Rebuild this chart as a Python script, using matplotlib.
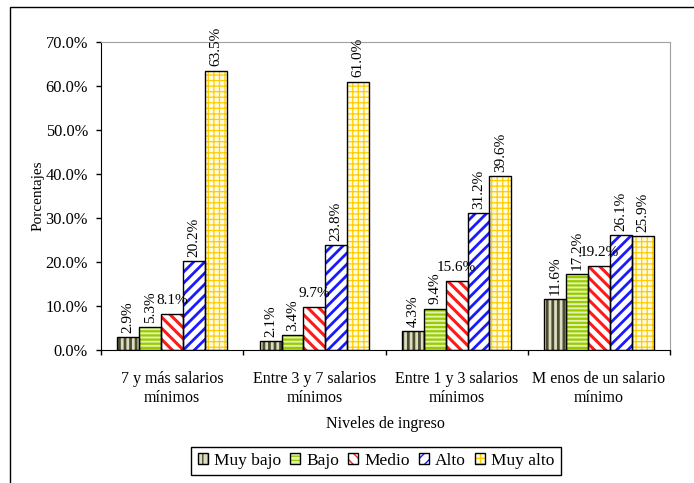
import matplotlib
matplotlib.use("Agg")
import matplotlib.pyplot as plt
import numpy as np
from matplotlib.patches import Patch, Rectangle
from matplotlib.legend_handler import HandlerTuple
from matplotlib.ticker import FuncFormatter, FixedLocator

plt.rcParams['font.family'] = ['Liberation Serif', 'DejaVu Serif']

categories = ["7 y más salarios\nmínimos", "Entre 3 y 7 salarios\nmínimos",
              "Entre 1 y 3 salarios\nmínimos", "M enos de un salario\nmínimo"]
series = ["Muy bajo", "Bajo", "Medio", "Alto", "Muy alto"]
muy_bajo = [2.9, 2.1, 4.3, 11.6]
bajo = [5.3, 3.4, 9.4, 17.2]
medio = [8.1, 9.7, 15.6, 19.2]
alto = [20.2, 23.8, 31.2, 26.1]
muy_alto = [63.5, 61.0, 39.6, 25.9]
values = [muy_bajo, bajo, medio, alto, muy_alto]

faces = ["#dcdcc4", "#e4f2b0", "#ffffff", "#ffffff", "#fffbe0"]
hatch_colors = ["#4d4d2e", "#99cc00", "#ff1a1a", "#1a1aff", "#ffcc00"]
hatches = ["|||", "----", "\\\\\\", "///", "+++"]
hatch_lw = [2.0, 1.6, 2.2, 2.0, 0.9]
label_rot = [90, 90, 0, 90, 90]

fig = plt.figure(figsize=(6.94, 4.83), dpi=100)
fig.patches.append(Rectangle((10 / 694, -0.05), 1.0, (483 - 7) / 483 + 0.05,
                             transform=fig.transFigure, fill=False,
                             edgecolor="black", linewidth=1.0, zorder=0))
ax = fig.add_axes([101 / 694, (483 - 350) / 483, 569 / 694, 308 / 483])

n = len(series)
width = 1 / (n + 1.5)
x = np.arange(len(categories))
handles = []
for i, (name, vals) in enumerate(zip(series, values)):
    pos = x + (i - (n - 1) / 2) * width
    with plt.rc_context({'hatch.linewidth': hatch_lw[i]}):
        ax.bar(pos, vals, width, color=faces[i], edgecolor=hatch_colors[i],
               hatch=hatches[i], linewidth=0, zorder=2)
        handles.append((Patch(facecolor=faces[i], edgecolor=hatch_colors[i],
                              hatch=hatches[i], linewidth=0),
                        Patch(fill=False, edgecolor="black", linewidth=1.0)))
    ax.bar(pos, vals, width, fill=False, edgecolor="black", linewidth=1.0, zorder=3)
    for p, v in zip(pos, vals):
        if label_rot[i] == 90:
            ax.annotate(f"{v:.1f}%", (p, v), xytext=(0, 3), textcoords="offset points",
                        rotation=90, ha="center", va="bottom", fontsize=11,
                        annotation_clip=False)
        else:
            ax.annotate(f"{v:.1f}%", (p, v), xytext=(0, 5), textcoords="offset points",
                        ha="center", va="bottom", fontsize=11, annotation_clip=False)

ax.set_xlim(-0.5, len(categories) - 0.5)
ax.set_ylim(0, 70)
ax.yaxis.set_major_locator(FixedLocator(np.arange(0, 71, 10)))
ax.yaxis.set_major_formatter(FuncFormatter(lambda v, _: f"{v:.1f}%"))
ax.xaxis.set_major_locator(FixedLocator(np.arange(-0.5, len(categories), 1.0)))
ax.xaxis.set_major_formatter(FuncFormatter(lambda v, _: ""))
ax.xaxis.set_minor_locator(FixedLocator(x))
ax.set_xticklabels(categories, minor=True, fontsize=11.5, linespacing=1.3)
ax.tick_params(axis="x", which="minor", length=0, pad=15)
ax.tick_params(axis="x", which="major", length=3.6, direction="out", width=1)
ax.tick_params(axis="y", length=3.6, direction="out", width=1, labelsize=11.8, pad=5.8)

for s in ["top", "right"]:
    ax.spines[s].set_color("#a0a0a0")
for s in ["left", "bottom"]:
    ax.spines[s].set_color("black")

ax.set_ylabel("Porcentajes", fontsize=11, va="center")
ax.yaxis.set_label_coords(-63 / 569, 0.5)
ax.set_xlabel("Niveles de ingreso", fontsize=11.5, va="center")
ax.xaxis.set_label_coords(0.5, -(424 - 350) / 308)

leg = fig.legend(handles, series, loc="center", bbox_to_anchor=(376 / 694, (483 - 461) / 483),
                 ncol=5, fontsize=12.5, handler_map={tuple: HandlerTuple(ndivide=1, pad=0)},
                 handlelength=0.6, handleheight=0.6, handletextpad=0.35, columnspacing=0.5,
                 fancybox=False, edgecolor="black", framealpha=1, borderpad=0.35,
                 borderaxespad=0)
leg.get_frame().set_linewidth(1.0)

fig.savefig("out.png", dpi=100)
